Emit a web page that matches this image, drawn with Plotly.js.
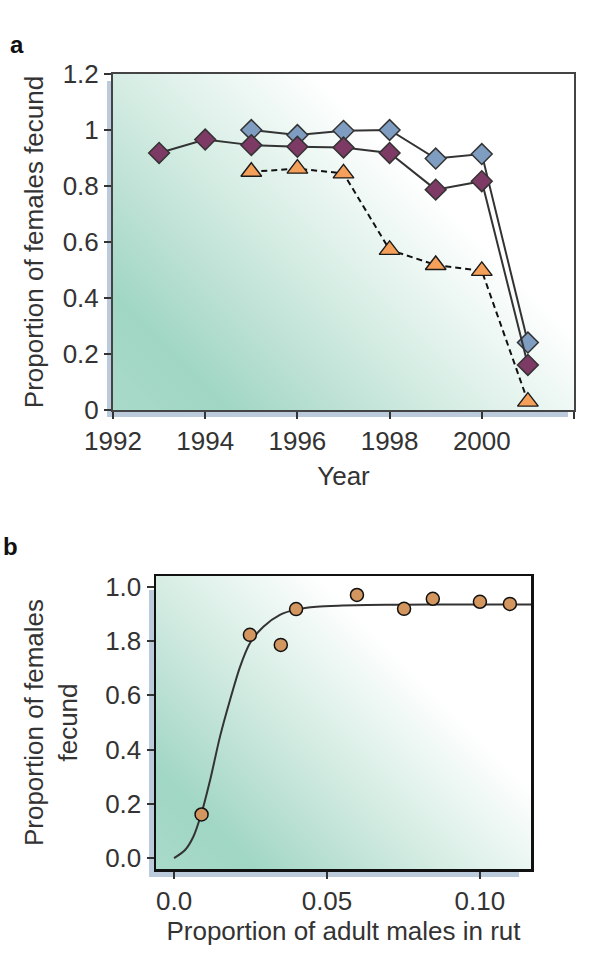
<!DOCTYPE html>
<html><head><meta charset="utf-8">
<script src="https://cdn.plot.ly/plotly-3.0.1.min.js"></script>
<style>html,body{margin:0;padding:0;background:#fff}</style>
</head><body><div id="chart" style="width:600px;height:967px"></div>
<script>
// ---- Panel a data ----
const blueYears = [1995, 1996, 1997, 1998, 1999, 2000, 2001];
const blueVals  = [1.00, 0.982, 0.997, 1.00, 0.898, 0.914, 0.241];
const purpleYears = [1993, 1994, 1995, 1996, 1997, 1998, 1999, 2000, 2001];
const purpleVals  = [0.918, 0.966, 0.946, 0.94, 0.9375, 0.918, 0.787, 0.817, 0.161];
const orangeYears = [1995, 1996, 1997, 1998, 1999, 2000, 2001];
const orangeVals  = [0.851, 0.862, 0.845, 0.572, 0.518, 0.497, 0.03];
const aYTickVals = [0, 0.2, 0.4, 0.6, 0.8, 1, 1.2];
const aYTickText = ['0', '0.2', '0.4', '0.6', '0.8', '1', '1.2'];
const aXTickVals = [1992, 1994, 1996, 1998, 2000, 2002];

// ---- Panel b data ----
const maleProp = [0.0090, 0.0248, 0.0349, 0.0399, 0.0598, 0.0752, 0.0846, 0.100, 0.1098];
const fecundProp = [0.161, 0.823, 0.786, 0.918, 0.970, 0.919, 0.956, 0.945, 0.937];
const fitX = [0, 0.0036, 0.0063, 0.0088, 0.0118, 0.015, 0.0183, 0.0216, 0.0248, 0.0292, 0.0346, 0.0401, 0.0466, 0.055, 0.063, 0.075, 0.09, 0.1167];
const fitY = [0.0, 0.03, 0.079, 0.159, 0.288, 0.447, 0.583, 0.706, 0.792, 0.853, 0.897, 0.917, 0.927, 0.931, 0.933, 0.934, 0.935, 0.935];
const bYTickVals = [0, 0.2, 0.4, 0.6, 0.8, 1.0];
const bYTickText = ['0.0', '0.2', '0.4', '0.6', '1.8', '1.0'];
const bXTickVals = [0, 0.05, 0.10];
const bXTickText = ['0.0', '0.05', '0.10'];

// ---- geometry (pixels) ----
const W = 600, H = 967;
const px = v => v / W, py = v => 1 - v / H;
const A = {l: 113, r: 574, t: 74, b: 410};
const B = {l: 156, r: 531, t: 576, b: 869};
const FONT = '"Liberation Sans", Arial, Helvetica, sans-serif';
const TXT = '#333333';
const BAND = '#bccbdb';
const FS = 26;

function gradient(w, h, L) {
  const c = document.createElement('canvas');
  c.width = w; c.height = h;
  const g = c.getContext('2d');
  const d = L / Math.SQRT2;
  const lg = g.createLinearGradient(0, h, d, h - d);
  lg.addColorStop(0, '#a9dac9');
  lg.addColorStop(0.2, '#a0d6c4');
  lg.addColorStop(0.45, '#c3e4d8');
  lg.addColorStop(0.62, '#d8eee5');
  lg.addColorStop(0.8, '#edf7f3');
  lg.addColorStop(0.95, '#ffffff');
  lg.addColorStop(1, '#ffffff');
  g.fillStyle = lg;
  g.fillRect(0, 0, w, h);
  return c.toDataURL('image/png');
}

function rect(x0, x1, y0, y1) {
  return {type: 'rect', xref: 'paper', yref: 'paper', layer: 'below',
    x0: px(x0), x1: px(x1), y0: py(y1), y1: py(y0),
    fillcolor: BAND, line: {width: 0}};
}

const diamondLine = {color: '#333333', width: 1.5};
const traces = [
  {x: blueYears, y: blueVals, type: 'scatter', mode: 'lines+markers', xaxis: 'x', yaxis: 'y',
   line: {color: '#333333', width: 2},
   marker: {symbol: 'diamond', size: 16, color: '#7f9dc1', line: diamondLine}},
  {x: purpleYears, y: purpleVals, type: 'scatter', mode: 'lines+markers', xaxis: 'x', yaxis: 'y',
   line: {color: '#333333', width: 2},
   marker: {symbol: 'diamond', size: 16, color: '#7d3a64', line: diamondLine}},
  {x: orangeYears, y: orangeVals, type: 'scatter', mode: 'lines+markers', xaxis: 'x', yaxis: 'y',
   line: {color: '#111111', width: 2, dash: '6px,4px'},
   marker: {symbol: 'triangle-up', size: 18, color: '#f5a05a', line: {color: '#1a1a1a', width: 1.4}}},
  {x: fitX, y: fitY, type: 'scatter', mode: 'lines', xaxis: 'x2', yaxis: 'y2',
   line: {color: '#333333', width: 2, shape: 'spline', smoothing: 0.8}},
  {x: maleProp, y: fecundProp, type: 'scatter', mode: 'markers', xaxis: 'x2', yaxis: 'y2',
   marker: {symbol: 'circle', size: 13, color: '#d3965f', line: {color: '#111111', width: 1.5}}}
];

const axBase = {
  showgrid: false, zeroline: false, showline: true, mirror: true,
  ticks: 'outside', ticklen: 7, tickwidth: 2, tickcolor: '#333333',
  tickfont: {family: FONT, size: FS, color: TXT}
};

const layout = {
  width: W, height: H,
  margin: {l: 0, r: 0, t: 0, b: 0},
  paper_bgcolor: '#ffffff', plot_bgcolor: 'rgba(0,0,0,0)',
  showlegend: false,
  font: {family: FONT, color: TXT},
  xaxis: Object.assign({}, axBase, {
    domain: [px(A.l), px(A.r)], anchor: 'y', range: [1992, 2002],
    tickvals: aXTickVals, linecolor: '#444444', linewidth: 2,
    title: {text: 'Year', font: {family: FONT, size: FS, color: TXT}, standoff: 12}
  }),
  yaxis: Object.assign({}, axBase, {
    domain: [py(A.b), py(A.t)], anchor: 'x', range: [0, 1.2],
    tickvals: aYTickVals, ticktext: aYTickText, linecolor: '#444444', linewidth: 2,
    title: {text: 'Proportion of females fecund', font: {family: FONT, size: FS, color: TXT}, standoff: 12}
  }),
  xaxis2: Object.assign({}, axBase, {
    domain: [px(B.l), px(B.r)], anchor: 'y2', range: [-0.0059, 0.1167],
    tickvals: bXTickVals, ticktext: bXTickText, linecolor: '#111111', linewidth: 2.5,
    title: {text: 'Proportion of adult males in rut', font: {family: FONT, size: FS, color: TXT}, standoff: 5}
  }),
  yaxis2: Object.assign({}, axBase, {
    domain: [py(B.b), py(B.t)], anchor: 'x2', range: [-0.04, 1.04],
    tickvals: bYTickVals, ticktext: bYTickText, linecolor: '#111111', linewidth: 2.5,
    title: {text: 'Proportion of females<br>fecund', font: {family: FONT, size: FS, color: TXT}, standoff: 20}
  }),
  images: [
    {source: gradient(A.r - A.l, A.b - A.t, 400), xref: 'paper', yref: 'paper',
     x: px(A.l), y: py(A.t), sizex: px(A.r) - px(A.l), sizey: py(A.t) - py(A.b),
     xanchor: 'left', yanchor: 'top', sizing: 'stretch', layer: 'below'},
    {source: gradient(B.r - B.l, B.b - B.t, 340), xref: 'paper', yref: 'paper',
     x: px(B.l), y: py(B.t), sizex: px(B.r) - px(B.l), sizey: py(B.t) - py(B.b),
     xanchor: 'left', yanchor: 'top', sizing: 'stretch', layer: 'below'}
  ],
  shapes: [
    rect(107, 113, 81, 417), rect(107, 568, 410, 417),
    rect(149, 156, 590, 877), rect(149, 519, 869, 877)
  ],
  annotations: [
    {text: '<b>a</b>', xref: 'paper', yref: 'paper', x: px(8), y: py(45), xanchor: 'left', yanchor: 'middle',
     showarrow: false, font: {family: FONT, size: 24, color: '#111111'}},
    {text: '<b>b</b>', xref: 'paper', yref: 'paper', x: px(1), y: py(546), xanchor: 'left', yanchor: 'middle',
     showarrow: false, font: {family: FONT, size: 24, color: '#111111'}}
  ]
};

Plotly.newPlot('chart', traces, layout, {displayModeBar: false, staticPlot: true});
</script>
</body></html>
